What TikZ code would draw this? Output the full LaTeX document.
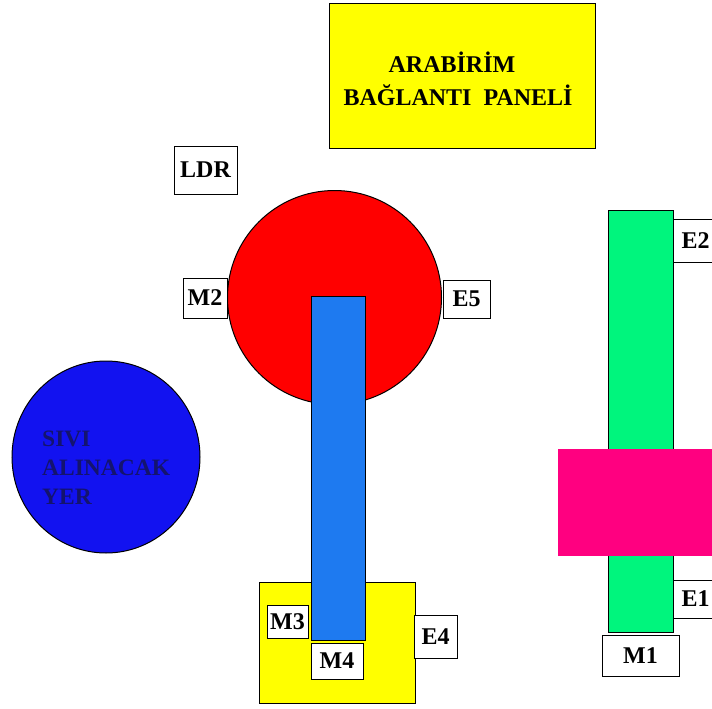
\documentclass[tikz,border=0pt]{standalone}
\usepackage{fontspec}
\setmainfont{Liberation Serif}
\usetikzlibrary{shapes.geometric}
\definecolor{panelyellow}{RGB}{255,255,0}
\definecolor{redc}{RGB}{255,0,0}
\definecolor{bluec}{RGB}{18,18,240}
\definecolor{bluerect}{RGB}{30,122,240}
\definecolor{greenr}{RGB}{0,245,125}
\definecolor{magentar}{RGB}{255,0,128}
\definecolor{navytext}{RGB}{20,20,110}
\tikzset{
  shp/.style={draw=black, line width=1pt, inner sep=0pt, anchor=center},
  lbl/.style={shp, fill=white, font=\fontsize{24}{26}\selectfont\bfseries},
  rectbox/.style={shp, rectangle},
}
\begin{document}
\begin{tikzpicture}[x=1pt,y=-1pt]
\useasboundingbox (0,0) rectangle (712,709);
\fill[white] (0,0) rectangle (712,709);
\clip (0,0) rectangle (712,709);
% top panel
\node[rectbox, fill=panelyellow, minimum width=266pt, minimum height=144pt] (panel) at (462,76) {};
\node[align=center, font=\fontsize{24}{33}\selectfont\bfseries, inner sep=0pt] (paneltext) at (458,79) {ARABİRİM\hspace*{12pt}\\BAĞLANTI\ \ PANELİ};
% LDR
\node[lbl, minimum width=63pt, minimum height=48pt] (ldr) at (205.5,170) {LDR};
% red circle
\node[shp, circle, fill=redc, minimum size=214pt] (redcircle) at (334.5,297.5) {};
\node[lbl, minimum width=44pt, minimum height=40pt] (m2) at (205,298) {M2};
\node[lbl, minimum width=47pt, minimum height=38pt] (e5) at (466.5,299) {E5};
% bottom yellow box
\node[rectbox, fill=panelyellow, minimum width=156pt, minimum height=121pt] (base) at (337,642.5) {};
% blue rod
\node[rectbox, fill=bluerect, minimum width=54pt, minimum height=344pt] (rod) at (338,468) {};
\node[lbl, minimum width=41pt, minimum height=33pt] (m3) at (287.5,621.5) {M3};
\node[lbl, minimum width=52pt, minimum height=36pt] (m4) at (337,661) {M4};
\node[lbl, minimum width=43pt, minimum height=43pt] (e4) at (435.5,636.5) {E4};
% blue circle
\node[shp, ellipse, fill=bluec, minimum width=188pt, minimum height=192pt] (liquid) at (106,457) {};
\node[anchor=west, align=left, inner sep=0pt, text=navytext, font=\fontsize{23.5}{29}\selectfont\bfseries] (liquidtext) at (42,468) {SIVI\\ALINACAK\\YER};
% green column
\node[rectbox, fill=greenr, minimum width=65pt, minimum height=422pt] (column) at (640.5,421) {};
\node[lbl, minimum width=47pt, minimum height=43pt, text width=40pt, align=left] (e2) at (696.5,240.5) {\hspace*{5pt}E2};
\node[shp, rectangle, draw=none, fill=magentar, minimum width=162pt, minimum height=107pt] (carriage) at (639,502.5) {};
\node[lbl, minimum width=47pt, minimum height=38pt, text width=40pt, align=left] (e1) at (696.5,599) {\hspace*{5pt}E1};
\node[lbl, minimum width=77pt, minimum height=41pt] (m1) at (640.5,655.5) {M1};
\end{tikzpicture}
\end{document}
